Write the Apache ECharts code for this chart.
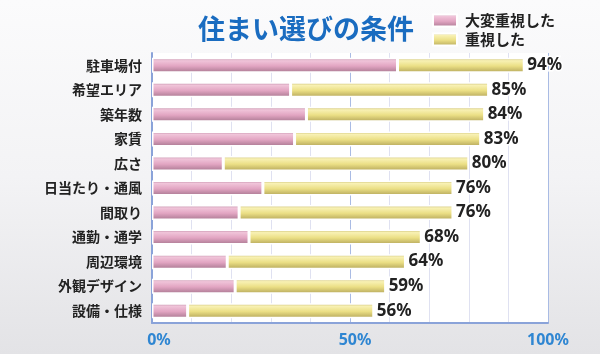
<!DOCTYPE html>
<html>
<head>
<meta charset="utf-8">
<script src="https://cdn.jsdelivr.net/npm/echarts@6/dist/echarts.min.js"></script>
<style>
html,body{margin:0;padding:0;}
#c{width:600px;height:354px;background:linear-gradient(to bottom,#fbfbfc 0%,#f3f3f5 50%,#e3e3e6 100%);}
</style>
</head>
<body>
<div id="c"></div>
<script>
var categories = ['駐車場付','希望エリア','築年数','家賃','広さ','日当たり・通風','間取り','通勤・通学','周辺環境','外観デザイン','設備・仕様'];
var totals = [94, 85, 84, 83, 80, 76, 76, 68, 64, 59, 56];
var veryImportant = [62, 35, 39, 36, 18, 28, 22, 24.5, 19, 21, 9];
var seriesNames = ['大変重視した', '重視した'];
var titleText = '住まい選びの条件';
var xTicks = [0, 50, 100];

var important = totals.map(function (t, i) { return +(t - veryImportant[i]).toFixed(1); });

function grad(stops) {
  return new echarts.graphic.LinearGradient(0, 0, 0, 1, stops.map(function (s) { return { offset: s[0], color: s[1] }; }));
}
var pinkGrad = grad([[0, '#b8859f'], [0.2, '#f0c4d9'], [0.55, '#e2a5c2'], [1, '#a87790']]);
var yellowGrad = grad([[0, '#c2b56a'], [0.2, '#f8f1b4'], [0.55, '#ebdf85'], [1, '#b4a65a']]);

var chart = echarts.init(document.getElementById('c'), null, { renderer: 'canvas' });
chart.setOption({
  animation: false,
  title: {
    text: titleText,
    left: 301, top: 10, textAlign: 'center',
    textStyle: { fontFamily: 'Noto Sans CJK JP', fontWeight: 'bold', fontSize: 27, color: '#1a6cc0' }
  },
  legend: {
    orient: 'vertical', left: 432, top: 13, itemWidth: 24, itemHeight: 12, itemGap: 4, padding: 0,
    data: [
      { name: seriesNames[0], icon: 'rect', itemStyle: { color: pinkGrad } },
      { name: seriesNames[1], icon: 'rect', itemStyle: { color: yellowGrad } }
    ],
    textStyle: { fontFamily: 'Noto Sans CJK JP', fontWeight: 'bold', fontSize: 15, color: '#222', padding: [0, 0, 0, 3] }
  },
  grid: { left: 152, right: 52, top: 53, bottom: 31, show: true, backgroundColor: '#ffffff', borderWidth: 0 },
  xAxis: {
    type: 'value', min: 0, max: 100, interval: 10,
    axisLine: { show: true, lineStyle: { color: '#8aa3d9', width: 2 } },
    axisTick: { show: false },
    splitLine: { show: true, lineStyle: { color: ['#a9bbe4', '#dfe1f1', '#dfe1f1', '#dfe1f1', '#dfe1f1'], width: 1 } },
    axisLabel: {
      margin: 9,
      formatter: function (v) {
        if (xTicks.indexOf(v) < 0) return '';
        if (v === 0) return '{a|' + v + '%}';
        if (v === 50) return '{b|' + v + '%}';
        return '{c|' + v + '%}';
      },
      rich: {
        a: { fontFamily: 'Noto Sans', fontWeight: 'bold', fontSize: 16, color: '#2f86d2', padding: [0, 0, 0, 14] },
        b: { fontFamily: 'Noto Sans', fontWeight: 'bold', fontSize: 16, color: '#2f86d2', padding: [0, 0, 0, 10] },
        c: { fontFamily: 'Noto Sans', fontWeight: 'bold', fontSize: 16, color: '#2f86d2' }
      }
    }
  },
  yAxis: {
    type: 'category', inverse: true, data: categories,
    axisLine: { show: true, lineStyle: { color: '#8aa3d9', width: 2 } },
    axisTick: { show: false },
    axisLabel: { margin: 10, fontFamily: 'Noto Sans CJK JP', fontWeight: 'bold', fontSize: 14, color: '#222' }
  },
  series: [
    {
      name: seriesNames[0], type: 'bar', stack: 'a', barWidth: 15, data: veryImportant,
      itemStyle: { color: pinkGrad, borderColor: '#ffffff', borderWidth: 1.5 }
    },
    {
      name: seriesNames[1], type: 'bar', stack: 'a', barWidth: 15, data: important,
      itemStyle: { color: yellowGrad, borderColor: '#ffffff', borderWidth: 1.5 },
      label: {
        show: true, position: 'right', distance: 3,
        formatter: function (p) { return totals[p.dataIndex] + '%'; },
        fontFamily: 'Noto Sans', fontWeight: 'bold', fontSize: 17, color: '#222',
        textBorderColor: '#ffffff', textBorderWidth: 3
      }
    }
  ]
});
</script>
</body>
</html>
